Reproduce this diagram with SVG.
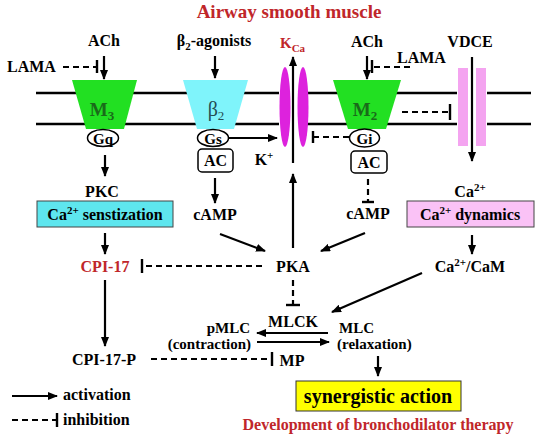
<svg xmlns="http://www.w3.org/2000/svg" width="550" height="440" viewBox="0 0 550 440">
<defs>
<marker id="ah" markerWidth="10" markerHeight="8" refX="9" refY="4" orient="auto" markerUnits="userSpaceOnUse">
<path d="M0,0 L10,4 L0,8 Z" fill="#000"/>
</marker>
<style>
text{font-family:"Liberation Serif","Times New Roman",serif;font-weight:bold;fill:#000;}
.t{font-size:16px;}
.s{font-size:15px;}
.red{fill:#c0262a;}
.c{text-anchor:middle;}
.act{stroke:#000;stroke-width:2.2;fill:none;marker-end:url(#ah);}
.inh{stroke:#000;stroke-width:2.2;fill:none;stroke-dasharray:6,4;}
.bar{stroke:#000;stroke-width:2.4;}
.mem{stroke:#000;stroke-width:2.6;}
.g{fill:#fff;stroke:#000;stroke-width:1.5;}
</style>
</defs>
<rect width="550" height="440" fill="#fff"/>

<text x="289" y="18" class="c red" style="font-size:19px">Airway smooth muscle</text>

<g id="membrane">
<line class="mem" x1="36" y1="93" x2="279" y2="93"/>
<line class="mem" x1="307" y1="93" x2="457" y2="93"/>
<line class="mem" x1="487" y1="93" x2="531" y2="93"/>
<line class="mem" x1="36" y1="124" x2="279" y2="124"/>
<line class="mem" x1="307" y1="124" x2="457" y2="124"/>
<line class="mem" x1="487" y1="124" x2="531" y2="124"/>
</g>

<g id="M3">
<polygon points="72,80 137,80 124,129 86,129" fill="#22e022"/>
<text x="102" y="116" class="c" style="font-size:19px;fill:#1a6a1a">M<tspan dy="4" font-size="13">3</tspan></text>
</g>
<g id="Gq">
<ellipse class="g" cx="103" cy="138" rx="15.5" ry="8.5"/>
<text x="103" y="143.5" class="c" style="font-size:15px">Gq</text>
</g>

<g id="B2">
<polygon points="183,80 248,80 234,129 197,129" fill="#7ff4fb"/>
<text x="216" y="116" class="c" style="font-size:20px;font-weight:normal;fill:#244c52">β<tspan dy="4" font-size="13">2</tspan></text>
</g>
<g id="Gs">
<ellipse class="g" cx="213" cy="138" rx="15.5" ry="8.5"/>
<text x="213" y="143.5" class="c" style="font-size:15px">Gs</text>
</g>
<g id="AC1">
<rect class="g" x="198" y="149" width="35" height="23" rx="4"/>
<text x="215.5" y="166" class="c t">AC</text>
</g>

<g id="KCa">
<ellipse cx="285" cy="107" rx="5.5" ry="40" fill="#dd22dd"/>
<ellipse cx="303" cy="107" rx="5.5" ry="40" fill="#dd22dd"/>
<text x="280" y="48" class="red" style="font-size:15px">K<tspan dy="4" font-size="11">Ca</tspan></text>
<text x="264" y="165" class="c t">K<tspan dy="-6" font-size="11">+</tspan></text>
</g>

<g id="M2">
<polygon points="333,80 401,80 386,129 348,129" fill="#22e022"/>
<text x="365" y="116" class="c" style="font-size:19px;fill:#1a6a1a">M<tspan dy="4" font-size="13">2</tspan></text>
</g>
<g id="Gi">
<ellipse class="g" cx="364.5" cy="138" rx="15" ry="9"/>
<text x="364.5" y="143.5" class="c" style="font-size:15px">Gi</text>
</g>
<g id="AC2">
<rect class="g" x="351" y="151" width="36" height="22" rx="4"/>
<text x="369" y="167.5" class="c t">AC</text>
</g>

<g id="VDCE">
<rect x="458" y="68" width="10" height="78" fill="#f4a4f0"/>
<rect x="476" y="68" width="10" height="78" fill="#f4a4f0"/>
<text x="470" y="47" class="c t">VDCE</text>
</g>

<g id="labels">
<text x="104" y="46" class="c t">ACh</text>
<text x="7" y="72" class="t">LAMA</text>
<text x="214" y="46" class="c t">β<tspan dy="4" font-size="11">2</tspan><tspan dy="-4">-agonists</tspan></text>
<text x="367" y="47" class="c t">ACh</text>
<text x="397" y="63" class="t">LAMA</text>
<text x="102" y="197" class="c t">PKC</text>
<text x="215" y="220" class="c t">cAMP</text>
<text x="368" y="219" class="c t">cAMP</text>
<text x="470" y="197" class="c t">Ca<tspan dy="-6" font-size="11">2+</tspan></text>
<text x="293" y="272" class="c t">PKA</text>
<text x="105" y="272" class="c t red">CPI-17</text>
<text x="470" y="272" class="c t">Ca<tspan dy="-6" font-size="11">2+</tspan><tspan dy="6">/CaM</tspan></text>
<text x="104" y="365" class="c t">CPI-17-P</text>
<text x="293" y="327" class="c t">MLCK</text>
<text x="292" y="366" class="c t">MP</text>
<text x="250" y="333" class="s" text-anchor="end">pMLC</text>
<text x="251" y="349" class="s" text-anchor="end">(contraction)</text>
<text x="339" y="333" class="s">MLC</text>
<text x="337" y="349" class="s">(relaxation)</text>
<text x="378" y="430" class="c t red">Development of bronchodilator therapy</text>
</g>

<g id="CaSens">
<rect x="37" y="201" width="136" height="26" fill="#5ee6ee" stroke="#444" stroke-width="1"/>
<text x="105" y="220" class="c t">Ca<tspan dy="-6" font-size="11">2+</tspan><tspan dy="6"> senstization</tspan></text>
</g>
<g id="CaDyn">
<rect x="407" y="201" width="127" height="26" fill="#fac2f6" stroke="#444" stroke-width="1"/>
<text x="470" y="220" class="c t">Ca<tspan dy="-6" font-size="11">2+</tspan><tspan dy="6"> dynamics</tspan></text>
</g>
<g id="Synergy">
<rect x="296" y="381" width="165" height="30" fill="#ffff00" stroke="#333" stroke-width="1"/>
<text x="378" y="403" class="c" style="font-size:20px">synergistic action</text>
</g>

<g id="connectors">
<line class="act" x1="104" y1="56" x2="104" y2="79"/>
<line class="inh" x1="63" y1="67" x2="96" y2="67"/>
<line class="bar" x1="97" y1="60" x2="97" y2="73"/>
<line class="act" x1="215" y1="56" x2="215" y2="78"/>
<line class="act" x1="367" y1="56" x2="367" y2="79"/>
<line class="inh" x1="410" y1="67" x2="373" y2="67"/>
<line class="bar" x1="372" y1="60" x2="372" y2="73"/>
<line class="act" x1="229" y1="138" x2="277" y2="138"/>
<line class="act" x1="293" y1="163" x2="293" y2="57"/>
<line class="inh" x1="349" y1="137" x2="314" y2="137"/>
<line class="bar" x1="313" y1="131" x2="313" y2="143"/>
<line class="inh" x1="402" y1="112" x2="449" y2="112"/>
<line class="bar" x1="450" y1="104" x2="450" y2="120"/>
<line class="act" x1="472" y1="57" x2="472" y2="161"/>
<line class="act" x1="105" y1="155" x2="105" y2="176"/>
<line class="act" x1="105" y1="233" x2="105" y2="254"/>
<line class="act" x1="105" y1="280" x2="105" y2="346"/>
<line class="act" x1="215" y1="178" x2="215" y2="203"/>
<line class="inh" x1="368" y1="179" x2="368" y2="201"/>
<line class="bar" x1="362" y1="202" x2="374" y2="202"/>
<line class="act" x1="220" y1="234" x2="265" y2="251"/>
<line class="act" x1="365" y1="233" x2="321" y2="251"/>
<line class="act" x1="293" y1="248" x2="293" y2="174"/>
<line class="inh" x1="262" y1="266" x2="144" y2="266"/>
<line class="bar" x1="142" y1="259" x2="142" y2="273"/>
<line class="act" x1="472" y1="235" x2="472" y2="254"/>
<line class="act" x1="422" y1="273" x2="332" y2="312"/>
<line class="inh" x1="293" y1="280" x2="293" y2="304"/>
<line class="bar" x1="286" y1="305" x2="300" y2="305"/>
<line class="act" x1="328" y1="333" x2="257" y2="333"/>
<line class="act" x1="257" y1="342" x2="329" y2="342"/>
<line class="inh" x1="151" y1="359" x2="271" y2="359"/>
<line class="bar" x1="272" y1="352" x2="272" y2="366"/>
<line class="act" x1="378" y1="356" x2="378" y2="376"/>
</g>

<g id="legend">
<line class="act" x1="12" y1="396" x2="57" y2="396"/>
<text x="63" y="400" class="t">activation</text>
<line class="inh" x1="12" y1="420" x2="56" y2="420"/>
<line class="bar" x1="57" y1="413" x2="57" y2="427"/>
<text x="63" y="425" class="t">inhibition</text>
</g>
</svg>
